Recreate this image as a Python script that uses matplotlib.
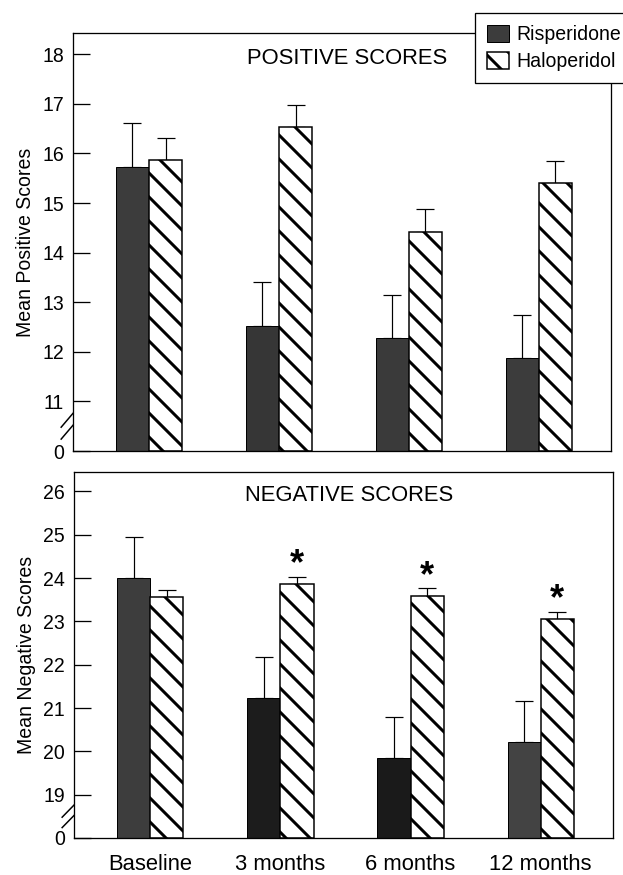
import matplotlib
matplotlib.use("Agg")
import matplotlib.pyplot as plt
import numpy as np

groups = ['Baseline', '3 months', '6 months', '12 months']

pos_ris = [15.73, 12.52, 12.28, 11.87]
pos_ris_err = [0.88, 0.89, 0.87, 0.87]
pos_hal = [15.87, 16.53, 14.41, 15.41]
pos_hal_err = [0.44, 0.45, 0.47, 0.44]

neg_ris = [24.0, 21.23, 19.85, 20.22]
neg_ris_err = [0.95, 0.95, 0.94, 0.95]
neg_hal = [23.57, 23.87, 23.59, 23.06]
neg_hal_err = [0.16, 0.16, 0.18, 0.16]
neg_sig = [False, True, True, True]

pos_ticks = [11, 12, 13, 14, 15, 16, 17, 18]
neg_ticks = [19, 20, 21, 22, 23, 24, 25, 26]

plt.rcParams['font.family'] = ['Liberation Sans', 'DejaVu Sans']
plt.rcParams['hatch.linewidth'] = 3.0

DPI = 72
fig = plt.figure(figsize=(623 / DPI, 875 / DPI), dpi=DPI)
ax1 = fig.add_axes([73 / 623, 1 - 451 / 875, 538 / 623, 418 / 875])
ax2 = fig.add_axes([74 / 623, 1 - 838 / 875, 539 / 623, 366 / 875])

x = np.arange(len(groups))
w = 0.255
ris_cols_top = ['#3c3c3c', '#363636', '#3a3a3a', '#3c3c3c']
ris_cols_bot = ['#3d3d3d', '#1c1c1c', '#1a1a1a', '#434343']


def panel(ax, base, ris, ris_err, hal, hal_err, ticks, top, title, ylabel, ris_cols):
    zeros = [0] * len(ris)
    ax.bar(x - w / 2, np.array(ris) - base, w, bottom=base, color=ris_cols,
           edgecolor='black', linewidth=1.0, label='Risperidone', zorder=2)
    ax.bar(x + w / 2, np.array(hal) - base, w, bottom=base, color='white',
           edgecolor='black', linewidth=1.5, hatch='\\', label='Haloperidol', zorder=2)
    ax.errorbar(x - w / 2, ris, yerr=[zeros, ris_err], fmt='none', ecolor='black',
                elinewidth=1.2, capsize=9, capthick=1.2, zorder=1)
    ax.errorbar(x + w / 2, hal, yerr=[zeros, hal_err], fmt='none', ecolor='black',
                elinewidth=1.2, capsize=9, capthick=1.2, zorder=1)
    ax.set_xlim(-0.585, 3.555)
    ax.set_ylim(base, top)
    ax.set_yticks([base] + ticks)
    ax.set_yticklabels(['0'] + [str(t) for t in ticks])
    ax.tick_params(axis='y', direction='in', length=17, width=1.3, pad=9, labelsize=19.5)
    ax.set_ylabel(ylabel, fontsize=19.5, labelpad=7)
    ax.text(0.51, 0.964, title, transform=ax.transAxes, ha='center', va='top', fontsize=22)
    for s in ax.spines.values():
        s.set_linewidth(1.3)
    # axis break marks on the left spine
    trans = ax.get_yaxis_transform()
    for dy in (-0.12, 0.12):
        yb = base + 0.5 + dy
        ax.plot([-0.022, 0.0], [yb - 0.14, yb + 0.14], transform=trans,
                color='black', lw=1.5, clip_on=False, zorder=5)


panel(ax1, 10, pos_ris, pos_ris_err, pos_hal, pos_hal_err, pos_ticks, 18.43,
      'POSITIVE SCORES', 'Mean Positive Scores', ris_cols_top)
panel(ax2, 18, neg_ris, neg_ris_err, neg_hal, neg_hal_err, neg_ticks, 26.45,
      'NEGATIVE SCORES', 'Mean Negative Scores', ris_cols_bot)

ax1.set_xticks(x)
ax1.tick_params(axis='x', length=0, labelbottom=False)
ax2.set_xticks(x)
ax2.set_xticklabels(groups, fontsize=22)
ax2.tick_params(axis='x', length=0, pad=16)

for i, sig in enumerate(neg_sig):
    if sig:
        ax2.text(x[i] + w / 2, neg_hal[i] + neg_hal_err[i] - 0.13, '*', ha='center',
                 va='bottom', fontsize=36, fontweight='bold')

handles, labels = ax1.get_legend_handles_labels()
leg = fig.legend(handles, labels, loc='upper left', bbox_to_anchor=(475 / 623, 1 - 13 / 875),
                 borderaxespad=0, fancybox=False, edgecolor='black', framealpha=1,
                 fontsize=19.5, handlelength=1.15, handleheight=1.0, handletextpad=0.35,
                 labelspacing=0.4, borderpad=0.6)
leg.get_frame().set_linewidth(1.3)
leg.set_zorder(10)

fig.savefig('out.png', dpi=DPI)
